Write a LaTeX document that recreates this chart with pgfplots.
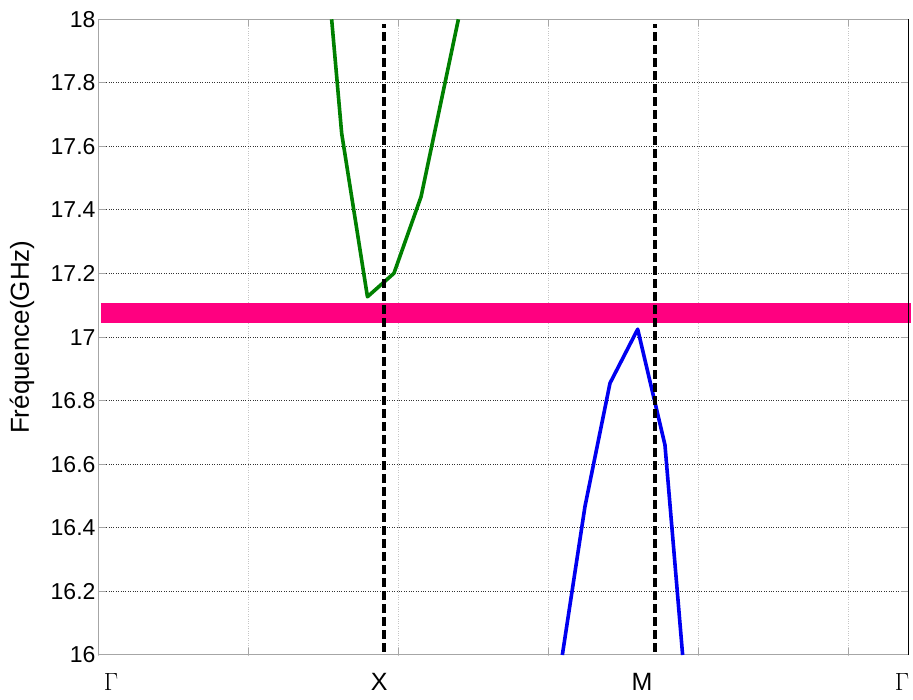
\documentclass[border=0pt]{standalone}
\usepackage{fontspec}
\setmainfont{Liberation Sans}
\usepackage{pgfplots}
\pgfplotsset{compat=1.18}
\definecolor{mgreen}{RGB}{0,128,0}
\definecolor{mblue}{RGB}{0,0,240}
\definecolor{mpink}{RGB}{255,0,128}
\begin{document}
\begin{tikzpicture}
\path[use as bounding box] (0,0) rectangle (913pt,700pt);
\begin{axis}[
  at={(99pt,45pt)}, anchor=south west,
  scale only axis, width=809pt, height=635.7pt,
  xmin=0, xmax=5.4005, ymin=16, ymax=18,
  xtick={0,1,2,3,4,5}, xticklabels={},
  ytick={16,16.2,16.4,16.6,16.8,17,17.2,17.4,17.6,17.8,18},
  /pgf/number format/assume math mode=true,
  tick label style={font=\fontsize{23}{27}\selectfont},
  xticklabel style={font=\fontsize{25}{30}\selectfont, yshift=-15pt},
  grid=major,
  x grid style={gray!45, dotted, line width=1pt},
  y grid style={black!80, dotted, line width=1pt},
  axis line style={gray!70, line width=1pt},
  tick style={gray!70, line width=1pt},
  major tick length=7pt,
  extra x ticks={0.08,1.87,3.625,5.36},
  extra x tick labels={$\Gamma$,X,M,$\Gamma$},
  extra x tick style={grid=none, major tick length=0pt},
  ylabel={Fréquence(GHz)},
  every axis y label/.style={at={(axis description cs:-0.0952,0.5)}, rotate=90, anchor=center, font=\fontsize{26}{30}\selectfont},
  clip=false,
]
\addplot[mpink, line width=20pt, forget plot] coordinates {(0.013,17.076) (5.42,17.076)};
\addplot[mgreen, line width=3.6pt, line join=round] coordinates {
  (1.553,18.0) (1.620,17.641) (1.792,17.127) (1.969,17.201) (2.150,17.442) (2.399,18.0)};
\addplot[mblue, line width=3.6pt, line join=round] coordinates {
  (3.093,16.0) (3.244,16.467) (3.411,16.855) (3.596,17.025) (3.778,16.661) (3.896,16.0)};
\addplot[black, line width=3.6pt, dash pattern=on 9pt off 4pt] coordinates {(1.903,16.01) (1.903,17.985)};
\addplot[black, line width=3.6pt, dash pattern=on 9pt off 4pt] coordinates {(3.712,16.01) (3.712,17.985)};
\addplot[black, line width=1pt] coordinates {(5.4005,16) (5.4005,18)};
\end{axis}
\end{tikzpicture}
\end{document}
